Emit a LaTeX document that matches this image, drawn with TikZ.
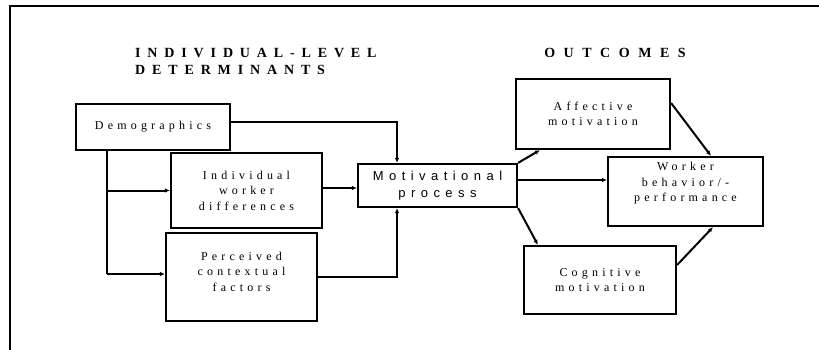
\documentclass[tikz,border=0pt]{standalone}
\usepackage{fontspec}
\setmainfont{Liberation Serif}
\newfontfamily\arialf{Liberation Sans}
\usetikzlibrary{arrows.meta}
\tikzset{
  box/.style={draw, line width=2.2pt, inner sep=0pt, align=center,
    font=\fontsize{12}{15.5}\selectfont\addfontfeature{LetterSpace=35}},
  head/.style={inner sep=0pt, align=left,
    font=\fontsize{14}{17}\selectfont\bfseries\addfontfeature{LetterSpace=49}},
  arr/.style={line width=2pt, -{Latex[length=5pt,width=4.5pt]}},
  ln/.style={line width=2pt},
}
\begin{document}
\begin{tikzpicture}[x=1pt,y=-1pt]
\useasboundingbox (0,0) rectangle (819,350);
\draw[line width=2.2pt] (10,350) -- (10,6) -- (819,6);
% headers
\node[head, anchor=west] (h1) at (135,61.5) {INDIVIDUAL-LEVEL\\DETERMINANTS};
\node[head, font=\fontsize{14}{17}\selectfont\bfseries\addfontfeature{LetterSpace=61}] (h2) at (615,53) {OUTCOMES};
% boxes
\node[box, minimum width=154pt, minimum height=46pt] (demo) at (153,127) {Demographics};
\node[box, minimum width=151pt, minimum height=75pt] (indiv) at (246.5,190.5) {Individual\\worker\\differences};
\node[box, minimum width=151pt, minimum height=88pt, text depth=11pt] (perc) at (241.5,277) {Perceived\\contextual\\factors};
\node[box, minimum width=159pt, minimum height=43pt,
  font=\arialf\fontsize{13}{17}\selectfont\addfontfeature{LetterSpace=42}] (motiv) at (437.5,185.5) {Motivational\\process};
\node[box, minimum width=154pt, minimum height=70pt] (aff) at (593,114) {Affective\\motivation};
\node[box, minimum width=155pt, minimum height=69pt, text depth=19pt] (work) at (685.5,191.5) {Worker\\behavior/-\\performance};
\node[box, minimum width=152pt, minimum height=68pt] (cog) at (600,280) {Cognitive\\motivation};
% connectors
\coordinate (trunk) at (107,274);
\draw[arr] ([yshift=5pt]demo.east) -| ([xshift=-40.5pt]motiv.north);
\draw[ln] ([xshift=-46pt]demo.south) -- (trunk);
\draw[arr] (indiv.west -| trunk) -- (indiv.west);
\draw[arr] (trunk) -- (trunk -| perc.west);
\draw[arr] ([yshift=2.5pt]indiv.east) -- ([yshift=-2.5pt]motiv.west);
\draw[arr] (perc.east) -| ([xshift=-40.5pt]motiv.south);
\draw[arr] (motiv.north east) -- ([xshift=25pt]aff.south west);
\draw[arr] ([yshift=5.5pt]motiv.east) -- ([yshift=11.5pt]work.west);
\draw[arr] (motiv.south east) -- ([xshift=15pt]cog.north west);
\draw[arr] ([yshift=11pt]aff.east) -- ([xshift=25.5pt]work.north);
\draw[arr] ([yshift=15pt]cog.east) -- ([xshift=27.5pt]work.south);
\end{tikzpicture}
\end{document}
